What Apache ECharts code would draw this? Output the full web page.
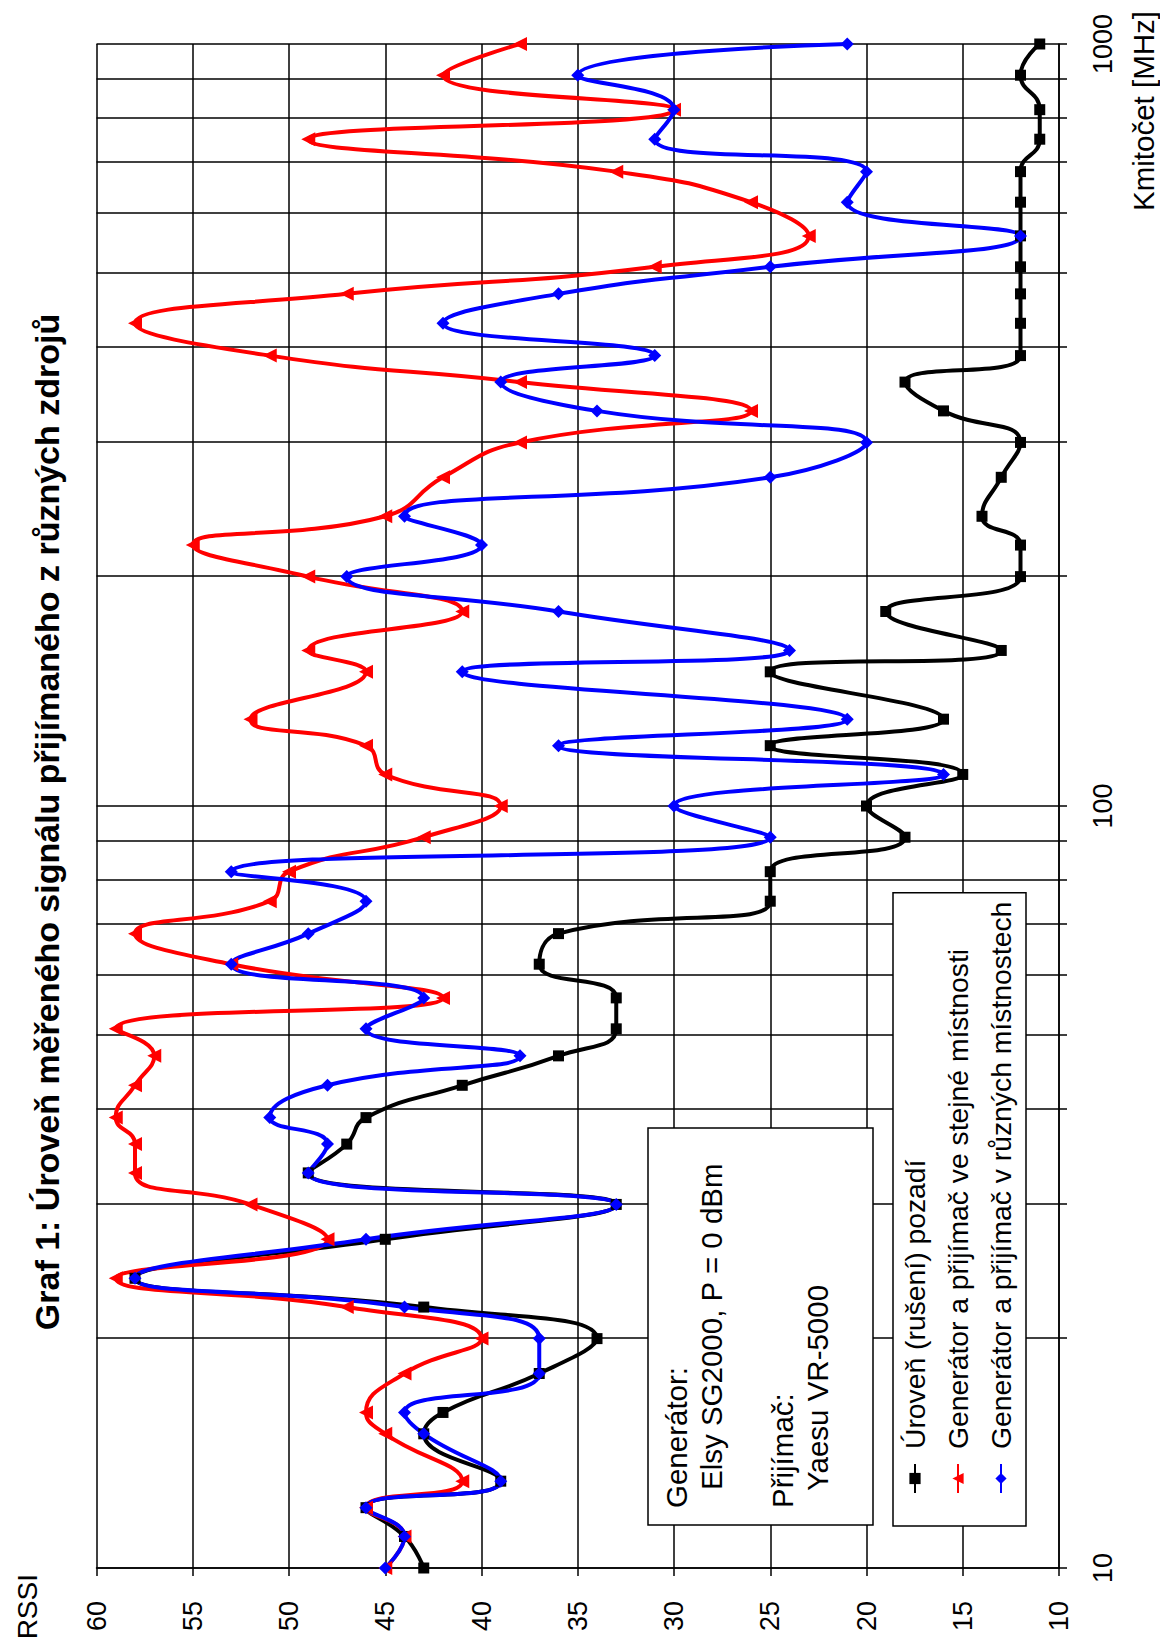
<!DOCTYPE html>
<html>
<head>
<meta charset="utf-8">
<script src="https://cdn.jsdelivr.net/npm/echarts@6/dist/echarts.min.js"></script>
<style>
html,body{margin:0;padding:0;overflow:hidden;width:1160px;height:1644px;background:#fff;}
#wrap{position:absolute;left:0;top:0;width:1644px;height:1160px;transform-origin:0 0;transform:translate(0px,1644px) rotate(-90deg);background:#fff;}
</style>
</head>
<body>
<div id="wrap"></div>
<script>
// Frequencies in MHz (E24 series)
const frequencies = [10,11,12,13,15,16,18,20,22,24,27,30,33,36,39,43,47,51,56,62,68,75,82,91,100,110,120,130,150,160,180,200,220,240,270,300,330,360,390,430,470,510,560,620,680,750,820,910,1000];
// RSSI: background (noise) level
const noiseLevel = [43,44,46,39,43,42,37,34,43,58,45,33,49,47,46,41,36,33,33,37,36,25,25,18,20,15,25,16,25,13,19,12,12,14,13,12,16,18,12,12,12,12,12,12,12,11,11,12,11];
// RSSI: generator and receiver in the same room
const sameRoom = [45,44,46,41,45,46,44,40,47,59,48,52,58,58,59,58,57,59,42,53,58,51,50,43,39,45,46,52,46,49,41,49,55,45,42,38,26,38,51,58,47,31,23,26,33,49,30,42,38];
// RSSI: generator and receiver in different rooms
const diffRooms = [45,44,46,39,43,44,37,37,44,58,46,33,49,48,51,48,38,46,43,53,49,46,53,25,30,16,36,21,41,24,36,47,40,44,25,20,34,39,31,42,36,25,12,21,20,31,30,35,21];

const seriesNames = ['Úroveň (rušení) pozadí','Generátor a přijímač ve stejné místnosti','Generátor a přijímač v různých místnostech'];
const titleText = 'Graf 1: Úroveň měřeného signálu přijímaného z různých zdrojů';
const xAxisTitle = 'Kmitočet [MHz]';
const yAxisTitle = 'RSSI';
const infoLines = ['Generátor:','Elsy SG2000, P = 0 dBm','Přijímač:','Yaesu VR-5000'];

const FF = "'Liberation Sans', Arial, sans-serif";
const pairs = arr => frequencies.map((f, i) => [f, arr[i]]);

const chart = echarts.init(document.getElementById('wrap'), null, {renderer:'svg', width:1644, height:1160});
const axisLineStyle = {color:'#000', width:1.5};

const option = {
  animation:false,
  backgroundColor:'#fff',
  title:{text:titleText, left:'center', top:30, padding:0,
    textStyle:{fontFamily:FF, fontSize:34, fontWeight:'bold', color:'#000'}},
  grid:{left:76, right:44, top:96.5, bottom:101, containLabel:false, outerBoundsMode:'none'},
  xAxis:{type:'log', logBase:10, min:10, max:1000,
    axisLine:{show:true, lineStyle:axisLineStyle},
    axisTick:{show:true, length:8, lineStyle:axisLineStyle},
    minorTick:{show:true, splitNumber:9, length:8, lineStyle:axisLineStyle},
    splitLine:{show:true, lineStyle:axisLineStyle},
    minorSplitLine:{show:true, lineStyle:axisLineStyle},
    axisLabel:{margin:30, fontSize:27, color:'#000', fontFamily:FF, formatter:v => String(v)}},
  yAxis:{type:'value', min:10, max:60, interval:5,
    axisLine:{show:true, lineStyle:axisLineStyle},
    axisTick:{show:true, length:8, lineStyle:axisLineStyle},
    splitLine:{show:true, lineStyle:axisLineStyle},
    axisLabel:{margin:33, fontSize:27, color:'#000', fontFamily:FF}},
  legend:{orient:'vertical', left:118, top:893, z:20,
    padding:[6,9,9,32], itemWidth:29, itemHeight:14, itemGap:11,
    backgroundColor:'#fff', borderColor:'#000', borderWidth:1.5,
    textStyle:{fontFamily:FF, fontSize:28.3, lineHeight:32, color:'#000', padding:[0,0,0,10]},
    data:seriesNames},
  graphic:[
    {type:'rect', z:20, shape:{x:119, y:648, width:397, height:225}, style:{fill:'#fff', stroke:'#000', lineWidth:1.5}},
    {type:'text', z:21, x:136, y:676, style:{text:infoLines[0], font:'29.5px '+FF, fill:'#000', verticalAlign:'middle', align:'left'}},
    {type:'text', z:21, x:154, y:711, style:{text:infoLines[1], font:'29.5px '+FF, fill:'#000', verticalAlign:'middle', align:'left'}},
    {type:'text', z:21, x:136, y:782, style:{text:infoLines[2], font:'29.5px '+FF, fill:'#000', verticalAlign:'middle', align:'left'}},
    {type:'text', z:21, x:153, y:817, style:{text:infoLines[3], font:'29.5px '+FF, fill:'#000', verticalAlign:'middle', align:'left'}},
    {type:'text', z:21, x:1633, y:1143, style:{text:xAxisTitle, font:'29.5px '+FF, fill:'#000', verticalAlign:'middle', align:'right'}},
    {type:'text', z:21, x:70, y:27, style:{text:yAxisTitle, font:'28px '+FF, fill:'#000', verticalAlign:'middle', align:'right'}}
  ],
  series:[
    {name:seriesNames[0], type:'line', data:pairs(noiseLevel), smooth:0.5,
      symbol:'rect', symbolSize:11, color:'#000',
      lineStyle:{color:'#000', width:4}, itemStyle:{color:'#000'}},
    {name:seriesNames[1], type:'line', data:pairs(sameRoom), smooth:0.5,
      symbol:'triangle', symbolSize:14, color:'#ff0000',
      lineStyle:{color:'#ff0000', width:4}, itemStyle:{color:'#ff0000'}},
    {name:seriesNames[2], type:'line', data:pairs(diffRooms), smooth:0.5,
      symbol:'diamond', symbolSize:13, color:'#0000ff',
      lineStyle:{color:'#0000ff', width:4}, itemStyle:{color:'#0000ff'}}
  ]
};
chart.setOption(option);
</script>
</body>
</html>
